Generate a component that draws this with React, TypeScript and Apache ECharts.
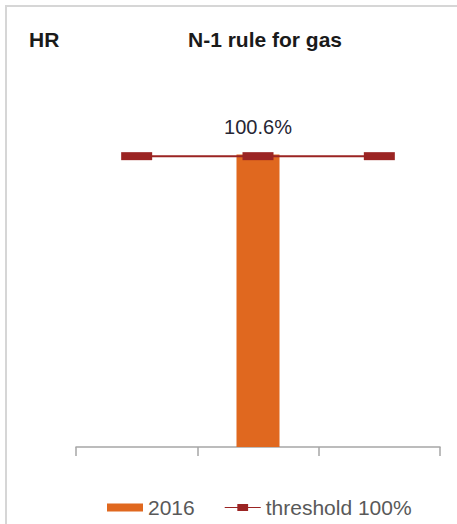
import React, { useEffect, useRef } from "react";
import * as echarts from "echarts";

const categories = ["", "HR", ""];
const barName = "2016";
const barValues: (number | null)[] = [null, 100.6, null];
const thresholdName = "threshold 100%";
const thresholdValues = [100, 100, 100];
const titleLeft = "HR";
const titleMain = "N-1 rule for gas";

const FONT = "'Liberation Sans', Arial, sans-serif";
const LINE_ICON = "path://M0,3.5H14V0H26V3.5H40V4.5H26V8H14V4.5H0Z";

export default function App() {
  const ref = useRef<HTMLDivElement>(null);
  useEffect(() => {
    if (!ref.current) return;
    const chart = echarts.init(ref.current, undefined, { renderer: "svg" });
    chart.setOption({
      animation: false,
      backgroundColor: "#ffffff",
      textStyle: { fontFamily: FONT },
      title: [
        {
          text: titleLeft,
          left: 24,
          top: 24,
          textStyle: { fontSize: 21, fontWeight: "bold", color: "#1a1a1a", fontFamily: FONT },
        },
        {
          text: titleMain,
          left: 183,
          top: 24,
          textStyle: { fontSize: 21, fontWeight: "bold", color: "#1a1a1a", fontFamily: FONT },
        },
      ],
      graphic: [
        {
          type: "line",
          shape: { x1: 5, y1: 6, x2: 457, y2: 6 },
          style: { stroke: "#d6d6d6", lineWidth: 2 },
        },
        {
          type: "line",
          shape: { x1: 6, y1: 5, x2: 6, y2: 524 },
          style: { stroke: "#d6d6d6", lineWidth: 2 },
        },
      ],
      legend: {
        left: 102,
        top: 492,
        itemGap: 30,
        itemWidth: 36,
        itemHeight: 8,
        textStyle: { fontSize: 21, color: "#595959", fontFamily: FONT },
        data: [
          { name: barName, icon: "rect" },
          { name: thresholdName, icon: LINE_ICON },
        ],
      },
      grid: { left: 76, right: 17, top: 98, bottom: 77 },
      xAxis: {
        type: "category",
        data: categories,
        axisLine: { lineStyle: { color: "#a6a6a6", width: 1.5 } },
        axisTick: { show: true, length: 9, lineStyle: { color: "#a6a6a6", width: 1.5 } },
        axisLabel: { show: false },
      },
      yAxis: {
        type: "value",
        min: 0,
        max: 120,
        show: false,
        splitLine: { show: false },
      },
      series: [
        {
          name: barName,
          type: "bar",
          data: barValues,
          barWidth: 43,
          itemStyle: { color: "#e0681f" },
          label: {
            show: true,
            position: "top",
            distance: 17,
            formatter: (p: any) => `${p.value}%`,
            fontSize: 20,
            color: "#262633",
            fontFamily: FONT,
          },
          z: 2,
        },
        {
          name: thresholdName,
          type: "line",
          data: thresholdValues,
          symbol: "rect",
          symbolSize: [31, 8],
          lineStyle: { color: "#9b2423", width: 2 },
          itemStyle: { color: "#9b2423" },
          z: 3,
        },
      ],
    });
    return () => chart.dispose();
  }, []);
  return (
    <div
      ref={ref}
      style={{ position: "fixed", left: 0, top: 0, width: 457, height: 524 }}
    />
  );
}
